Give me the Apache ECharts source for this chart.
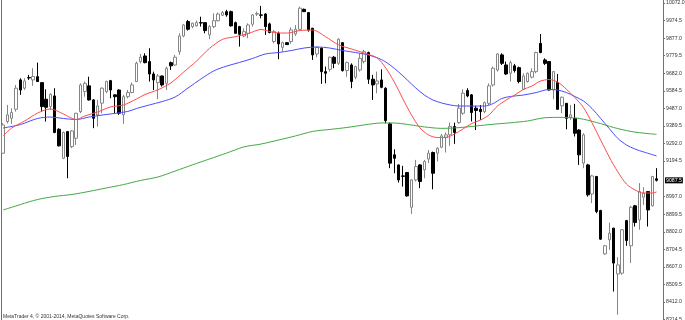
<!DOCTYPE html>
<html><head><meta charset="utf-8">
<script src="https://cdn.jsdelivr.net/npm/echarts@6/dist/echarts.min.js"></script>
<style>html,body{margin:0;padding:0;background:#fff}#c{width:685px;height:320px}</style>
</head><body><div id="c"></div>
<script>
const opens=[9238,9414,9432,9482,9645,9599,9658,9645,9663,9630,9538,9497,9556,9371,9210,9358,9275,9321,9469,9580,9612,9534,9451,9516,9580,9641,9562,9589,9451,9552,9575,9636,
9747,9778,9747,9678,9630,9667,9626,9741,9728,9802,9889,9969,9941,9945,9963,9963,9895,9941,9974,10004,10024,10024,9963,9941,9889,9904,9954,10011,10006,10011,
9956,9858,9904,9826,9852,9858,9900,9926,10037,10019,9932,9789,9821,9691,9704,9771,9737,9852,9697,9728,9660,9700,9747,9797,9649,9623,9645,9599,9401,9229,
9173,9112,9131,8938,9090,9173,9146,9205,9242,9238,9271,9327,9340,9386,9408,9460,9586,9562,9488,9482,9469,9515,9617,9700,9784,9728,9682,9723,9713,9593,
9636,9660,9691,9848,9756,9747,9589,9630,9501,9515,9438,9432,9367,9183,9173,9012,9109,8920,8679,8757,8822,8568,8572,8864,8724,8946,8868,8994,9025,8946,9096];
const closes=[9395,9451,9464,9599,9589,9639,9656,9664,9636,9497,9493,9565,9353,9279,9353,9220,9362,9460,9617,9626,9534,9432,9501,9599,9636,9589,9552,9460,9552,9575,9617,9738,
9771,9741,9678,9645,9667,9617,9710,9723,9771,9889,9950,9926,9960,9963,9961,9919,9941,9974,10011,10019,10006,9945,9904,9898,9913,9950,10006,10013,10004,9941,
9908,9913,9845,9852,9841,9922,9926,10043,10024,9922,9784,9825,9691,9682,9771,9737,9871,9697,9741,9636,9719,9765,9802,9649,9617,9639,9604,9419,9183,9210,
9090,9110,9001,9090,9164,9081,9192,9238,9127,9266,9334,9340,9386,9353,9488,9571,9556,9464,9475,9469,9519,9612,9710,9789,9737,9678,9741,9697,9636,9667,
9682,9691,9797,9797,9737,9589,9691,9482,9549,9432,9451,9349,9229,9340,9007,9112,8914,8761,8724,8794,8628,8618,8813,8753,8938,8853,9025,9016,8923,9109,9087.5];
const lows=[9234,9404,9401,9469,9562,9589,9645,9612,9634,9469,9414,9478,9349,9275,9205,9099,9266,9284,9460,9552,9530,9377,9386,9460,9571,9543,9460,9451,9401,9543,9571,9634,
9737,9737,9636,9589,9538,9608,9589,9700,9724,9784,9882,9919,9932,9941,9941,9904,9871,9932,9969,10000,9996,9941,9900,9830,9882,9876,9941,10000,9987,9895,
9904,9848,9760,9802,9839,9845,9889,9919,10022,9913,9756,9771,9623,9626,9691,9710,9728,9691,9663,9599,9649,9691,9737,9623,9534,9571,9599,9404,9155,9127,
9075,9053,8997,8901,9081,9044,9099,9183,9038,9192,9266,9242,9279,9290,9401,9451,9549,9414,9367,9423,9460,9506,9608,9691,9728,9673,9636,9686,9626,9589,
9630,9654,9682,9793,9728,9586,9538,9478,9460,9371,9423,9331,9173,9155,8997,8961,8905,8757,8674,8702,8470,8341,8563,8724,8628,8831,8813,8951,8831,8942,9081];
const highs=[9405,9506,9488,9617,9654,9654,9673,9710,9741,9632,9593,9571,9599,9377,9358,9360,9367,9462,9626,9636,9663,9538,9534,9604,9641,9645,9564,9593,9562,9589,9630,9747,
9789,9793,9821,9691,9678,9669,9719,9747,9784,9904,9956,9978,9963,9974,9996,9965,9950,10015,10019,10028,10034,10030,9969,9945,9932,9959,10011,10024,10056,10015,
9963,9922,9913,9858,9854,9937,9950,10052,10041,10020,9934,9830,9826,9719,9774,9778,9876,9854,9747,9737,9723,9793,9812,9802,9673,9691,9704,9604,9408,9260,
9175,9168,9133,9094,9201,9177,9201,9256,9247,9271,9345,9353,9408,9408,9512,9593,9599,9567,9501,9506,9525,9626,9719,9793,9793,9747,9752,9734,9719,9682,
9686,9710,9802,9900,9765,9750,9693,9678,9552,9517,9506,9512,9371,9349,9179,9118,9112,8924,8729,8853,8824,8661,8816,8868,8946,8951,9072,9049,9027,9112,9155];
const maFast=[[0,9335],[2,9378],[5,9417],[8,9461],[11,9484],[14,9456],[17,9425],[19,9445],[22,9467],[25,9495],[28,9506],[31,9539],[33,9564],[36,9590],[39,9628],[42,9689],[45,9750],[48,9820],[51,9870],[54,9885],[57,9902],[60,9925],[63,9908],[66,9905],[69,9919],[72,9922],[75,9885],[78,9840],[81,9817],[84,9794],[87,9767],[89,9711],[91,9633],[93,9539],[95,9450],[97,9378],[99,9339],[101,9325],[103,9325],[105,9345],[107,9373],[109,9403],[111,9422],[113,9450],[115,9500],[117,9533],[119,9561],[121,9592],[123,9611],[125,9639],[127,9647],[129,9633],[131,9594],[133,9547],[135,9492],[137,9406],[139,9311],[141,9217],[143,9134],[145,9067],[147,9034],[149,9017],[151,9017],[152,9023]];
const maMid=[[0,9378],[4,9397],[8,9431],[11,9439],[14,9431],[17,9425],[20,9439],[23,9450],[26,9459],[29,9470],[31,9486],[34,9506],[37,9525],[40,9550],[43,9600],[46,9650],[49,9695],[52,9722],[55,9742],[58,9764],[61,9789],[64,9797],[67,9808],[70,9822],[73,9828],[76,9822],[79,9808],[82,9797],[85,9783],[88,9758],[90,9728],[92,9689],[94,9645],[96,9600],[98,9561],[100,9533],[102,9517],[104,9506],[106,9500],[109,9500],[112,9500],[114,9514],[116,9542],[118,9553],[121,9561],[124,9575],[127,9592],[129,9589],[131,9575],[133,9553],[135,9528],[137,9486],[139,9431],[141,9375],[143,9320],[145,9284],[147,9261],[149,9245],[152,9223]];
const maSlow=[[0,8923],[4,8953],[8,8981],[12,8998],[16,9009],[20,9026],[24,9045],[28,9064],[32,9087],[36,9106],[40,9139],[44,9173],[48,9206],[52,9239],[56,9273],[60,9289],[64,9311],[68,9334],[72,9359],[76,9370],[80,9381],[84,9395],[88,9406],[91,9406],[94,9398],[98,9384],[102,9376],[106,9380],[110,9389],[114,9399],[118,9407],[122,9417],[126,9435],[130,9437],[134,9431],[138,9409],[142,9381],[146,9359],[150,9347],[152,9343]];
const yTicks=[10072.0,9974.5,9877.0,9779.5,9682.0,9584.5,9487.0,9389.5,9292.0,9194.5,8997.0,8899.5,8802.0,8704.5,8607.0,8509.5,8412.0,8314.5];
const yMin=8312.1, yMax=10088.7;
const categories=opens.map((_,i)=>String(i)).concat(['']);
const candleData=opens.map((o,i)=>[o,closes[i],lows[i],highs[i]]);
const lastPrice=closes[closes.length-1];

const chart=echarts.init(document.getElementById('c'),null,{renderer:'canvas'});
chart.setOption({
  animation:false,
  backgroundColor:'#ffffff',
  grid:{left:1,right:22,top:0,bottom:0,containLabel:false,outerBoundsMode:'none'},
  xAxis:{type:'category',data:categories,boundaryGap:true,show:false},
  yAxis:[{
    type:'value',position:'right',min:yMin,max:yMax,scale:true,
    splitLine:{show:false},
    axisLine:{show:true,lineStyle:{color:'#707070',width:1}},
    axisTick:{show:true,length:2,customValues:yTicks,lineStyle:{color:'#707070'}},
    axisLabel:{show:true,customValues:yTicks,formatter:v=>Number(v).toFixed(1),fontSize:5.2,color:'#333',margin:3,fontFamily:'Liberation Sans'}
  },{
    type:'value',position:'left',min:yMin,max:yMax,
    splitLine:{show:false},axisTick:{show:false},axisLabel:{show:false},
    axisLine:{show:true,lineStyle:{color:'#707070',width:1}}
  }],
  series:[{
    type:'candlestick',data:candleData,barWidth:3,
    itemStyle:{color:'#ffffff',color0:'#000000',borderColor:'#858585',borderColor0:'#000000',borderWidth:1},
    markLine:{silent:true,symbol:'none',data:[{yAxis:lastPrice}],lineStyle:{color:'rgba(0,0,0,0)',width:1,type:'solid'},
      label:{show:true,position:'end',distance:2,formatter:()=>lastPrice.toFixed(1),backgroundColor:'#000000',color:'#ffffff',opacity:1,fontSize:5.2,fontFamily:'Liberation Sans',padding:[1,1,0,1]}}
  },{
    type:'line',data:maSlow,showSymbol:false,smooth:0.3,z:3,lineStyle:{color:'#45a845',width:1}
  },{
    type:'line',data:maMid,showSymbol:false,smooth:0.3,z:3,lineStyle:{color:'#4b4bff',width:1}
  },{
    type:'line',data:maFast,showSymbol:false,smooth:0.3,z:3,lineStyle:{color:'#ff4b4b',width:1}
  }],
  graphic:[{type:'text',left:3,bottom:1,style:{text:'MetaTrader 4, © 2001-2014, MetaQuotes Software Corp.',fontSize:5,fill:'#333',fontFamily:'Liberation Sans'}}]
});
</script></body></html>
